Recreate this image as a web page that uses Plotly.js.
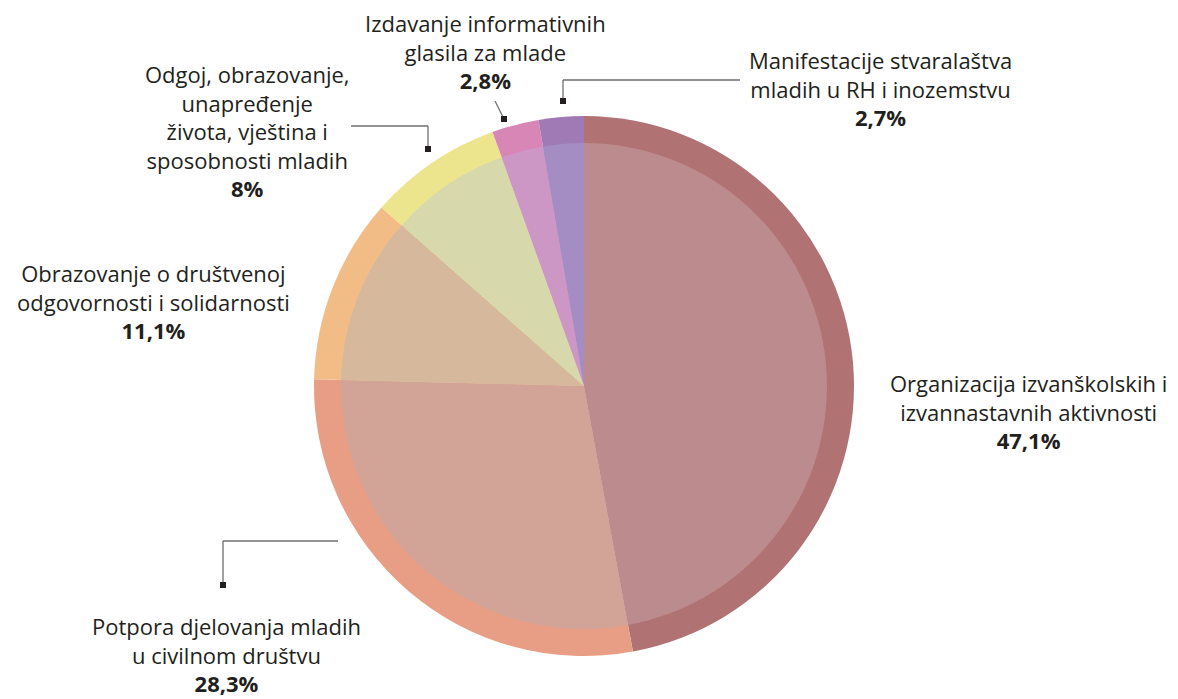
<!DOCTYPE html>
<html>
<head>
<meta charset="utf-8">
<script src="https://cdn.plot.ly/plotly-3.0.1.min.js"></script>
<style>
  html, body { margin: 0; padding: 0; background: #fff; }
  #chart { width: 1178px; height: 699px; }
</style>
</head>
<body>
<div id="chart"></div>
<script>
// categories, in clockwise order starting at 12 o'clock
var labels = [
    'Organizacija izvanškolskih i izvannastavnih aktivnosti',
    'Potpora djelovanja mladih u civilnom društvu',
    'Obrazovanje o društvenoj odgovornosti i solidarnosti',
    'Odgoj, obrazovanje, unapređenje života, vještina i sposobnosti mladih',
    'Izdavanje informativnih glasila za mlade',
    'Manifestacije stvaralaštva mladih u RH i inozemstvu'
];
var labelLines = [
    'Organizacija izvanškolskih i<br>izvannastavnih aktivnosti',
    'Potpora djelovanja mladih<br>u civilnom društvu',
    'Obrazovanje o društvenoj<br>odgovornosti i solidarnosti',
    'Odgoj, obrazovanje,<br>unapređenje<br>života, vještina i<br>sposobnosti mladih',
    'Izdavanje informativnih<br>glasila za mlade',
    'Manifestacije stvaralaštva<br>mladih u RH i inozemstvu'
];
var shares = [47.1, 28.3, 11.1, 8, 2.8, 2.7];

var outerColors = ['#b07273', '#e89e84', '#f2bc86', '#ede48e', '#d886b6', '#a07ab4'];
var innerColors = ['#bb8b8d', '#d2a397', '#d6b89c', '#d7d9ad', '#cd97c5', '#a48dc2'];

var W = 1178, H = 699;
var cx = 584, cy = 386;
function px(x) { return x / W; }
function py(y) { return 1 - y / H; }

function pieTrace(r, colors) {
    return {
        type: 'pie',
        labels: labels,
        values: shares,
        sort: false,
        direction: 'clockwise',
        rotation: 0,
        textinfo: 'none',
        hoverinfo: 'label+percent',
        marker: { colors: colors, line: { width: 0 } },
        domain: {
            x: [px(cx - r), px(cx + r)],
            y: [py(cy + r), py(cy - r)]
        },
        showlegend: false
    };
}

var outer = pieTrace(270, outerColors);
var inner = pieTrace(243, innerColors);

// label anchor points (pixels)
var labelPos = [
    [1028, 412],
    [227, 654],
    [153, 302],
    [247, 131],
    [485, 52],
    [880, 89]
];

var annotations = labels.map(function (l, i) {
    var pct = String(shares[i]).replace('.', ',') + '%';
    return {
        xref: 'paper', yref: 'paper',
        x: px(labelPos[i][0]), y: py(labelPos[i][1]),
        xanchor: 'center', yanchor: 'middle',
        showarrow: false,
        align: 'center',
        text: labelLines[i] + '<br><b>' + pct + '</b>',
        font: { family: 'Open Sans, sans-serif', size: 22, color: '#231f20' }
    };
});

// leader lines: polylines ending in a small square
var leaders = [
    [[338, 541], [223, 541], [223, 585]],
    [[351, 126], [428, 126], [428, 149]],
    [[495, 101], [504, 119]],
    [[740, 80], [563, 80], [563, 101]]
];

var shapes = [];
leaders.forEach(function (pts) {
    for (var k = 0; k < pts.length - 1; k++) {
        shapes.push({
            type: 'line', xref: 'paper', yref: 'paper',
            x0: px(pts[k][0]), y0: py(pts[k][1]),
            x1: px(pts[k + 1][0]), y1: py(pts[k + 1][1]),
            line: { color: '#6d6e71', width: 1.3 }
        });
    }
    var end = pts[pts.length - 1];
    shapes.push({
        type: 'rect', xref: 'paper', yref: 'paper',
        x0: px(end[0] - 3), x1: px(end[0] + 3),
        y0: py(end[1] - 3), y1: py(end[1] + 3),
        fillcolor: '#231f20', line: { width: 0 }
    });
});

var layout = {
    width: W,
    height: H,
    margin: { l: 0, r: 0, t: 0, b: 0 },
    paper_bgcolor: '#ffffff',
    showlegend: false,
    annotations: annotations,
    shapes: shapes
};

Plotly.newPlot('chart', [outer, inner], layout, { displayModeBar: false, staticPlot: true });
</script>
</body>
</html>
